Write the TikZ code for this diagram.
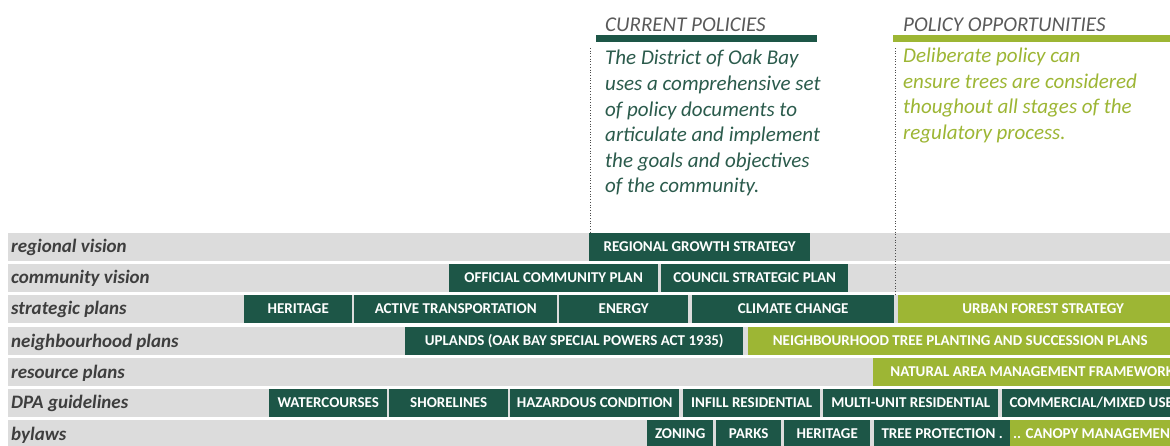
\documentclass[tikz,border=0pt]{standalone}
\usepackage{fontspec}
\setmainfont{Carlito}
\definecolor{dkgreen}{HTML}{1D5647}
\definecolor{lime}{HTML}{9DB634}
\definecolor{barbg}{HTML}{DCDCDC}
\definecolor{labgray}{HTML}{3E3E3E}
\definecolor{headgray}{HTML}{5A5A5A}
\definecolor{bodygreen}{HTML}{2B5B4C}
\begin{document}
\begin{tikzpicture}[x=1pt,y=-1pt,
  rowbar/.style={fill=barbg, minimum height=28pt, minimum width=1200pt, inner sep=0pt, anchor=west},
  rowlabel/.style={anchor=base west, inner sep=0pt, text=labgray,
    font=\fontsize{19}{21}\selectfont\bfseries\itshape},
  policy/.style={anchor=west, minimum height=28pt, inner sep=0pt, text height=9.6pt, text depth=0pt,
    text=white, font=\fontsize{15}{17}\selectfont\bfseries},
  current/.style={policy, fill=dkgreen},
  opportunity/.style={policy, fill=lime},
  heading/.style={anchor=base west, inner sep=0pt, text=headgray,
    font=\fontsize{21}{24}\selectfont\itshape},
  % multi-line text is placed by the baseline of its last line
  bodytext/.style={anchor=base west, inner sep=0pt, align=left,
    font=\fontsize{21}{25.6}\selectfont\itshape},
  dotline/.style={draw=black!70, line width=0.9pt, dash pattern=on 0.9pt off 1.8pt}
]
\useasboundingbox (0,0) rectangle (1170,446);
\clip (0,0) rectangle (1170,446);
\fill[white] (0,0) rectangle (1170,446);

% column headings
\node[heading] (curhead) at (605,32) {CURRENT POLICIES};
\fill[dkgreen] (596,35) rectangle (817,42);
\node[heading] (opphead) at (903,32) {POLICY OPPORTUNITIES};
\fill[lime] (893,35) rectangle (1180,42);

\node[bodytext, text=bodygreen] (curtext) at (605,193)
  {The District of Oak Bay\\uses a comprehensive set\\of policy documents to\\articulate and implement\\the goals and objectives\\of the community.};
\node[bodytext, text=lime] (opptext) at (903,139.5)
  {Deliberate policy can\\ensure trees are considered\\thoughout all stages of the\\regulatory process.};

% background rows
\node[rowbar] (r1) at (8,247) {};
\node[rowbar] (r2) at (8,278) {};
\node[rowbar] (r3) at (8,309) {};
\node[rowbar] (r4) at (8,341) {};
\node[rowbar] (r5) at (8,372) {};
\node[rowbar] (r6) at (8,402.5) {};
\node[rowbar] (r7) at (8,434) {};

\node[rowlabel] (l1) at (11,253) {regional vision};
\node[rowlabel] (l2) at (11,284) {community vision};
\node[rowlabel] (l3) at (11,315) {strategic plans};
\node[rowlabel] (l4) at (11,347) {neighbourhood plans};
\node[rowlabel] (l5) at (11,378) {resource plans};
\node[rowlabel] (l6) at (11,408.5) {DPA guidelines};
\node[rowlabel] (l7) at (11,440) {bylaws};

% regional vision
\node[current, minimum width=221pt] (rgs) at (589,247) {REGIONAL GROWTH STRATEGY};
% community vision
\node[current, minimum width=209pt] (ocp) at (449,278) {OFFICIAL COMMUNITY PLAN};
\node[current, minimum width=187pt] (csp) at (661,278) {COUNCIL STRATEGIC PLAN};
% strategic plans
\node[current, minimum width=108pt] (her) at (244,309) {HERITAGE};
\node[current, minimum width=203pt] (atr) at (354,309) {ACTIVE TRANSPORTATION};
\node[current, minimum width=129pt] (ene) at (559,309) {ENERGY};
\node[current, minimum width=202pt] (clc) at (692,309) {CLIMATE CHANGE};
\node[opportunity, minimum width=290pt] (ufs) at (898,309) {URBAN FOREST STRATEGY};
% neighbourhood plans
\node[current, minimum width=338pt] (upl) at (405,341) {UPLANDS (OAK BAY SPECIAL POWERS ACT 1935)};
\node[opportunity, minimum width=424pt] (ntp) at (748,341) {NEIGHBOURHOOD TREE PLANTING AND SUCCESSION PLANS};
% resource plans
\node[opportunity, minimum width=318pt] (nam) at (873,372) {NATURAL AREA MANAGEMENT FRAMEWORK};
% DPA guidelines
\node[current, minimum width=118pt] (wat) at (269,402.5) {WATERCOURSES};
\node[current, minimum width=119pt] (sho) at (389,402.5) {SHORELINES};
\node[current, minimum width=169pt] (haz) at (510,402.5) {HAZARDOUS CONDITION};
\node[current, minimum width=137pt] (inf) at (683,402.5) {INFILL RESIDENTIAL};
\node[current, minimum width=175pt] (mur) at (823,402.5) {MULTI-UNIT RESIDENTIAL};
\node[current, minimum width=178pt] (cmu) at (1002,402.5) {COMMERCIAL/MIXED USE};
% bylaws
\node[current, minimum width=66pt] (zon) at (647,434) {ZONING};
\node[current, minimum width=65pt] (par) at (716,434) {PARKS};
\node[current, minimum width=86pt] (bher) at (784,434) {HERITAGE};
\node[current, minimum width=136pt] (tpr) at (874,434) {TREE PROTECTION .};
\node[opportunity, minimum width=170pt] (can) at (1010,434) {.. CANOPY MANAGEMENT};

% column dividers
\coordinate (d1) at (590,48);
\coordinate (d2) at (895,48);
\draw[dotline] (d1) -- (d1 |- rgs.north);
\draw[dotline] (d2) -- (d2 |- ufs.north);
\end{tikzpicture}
\end{document}
